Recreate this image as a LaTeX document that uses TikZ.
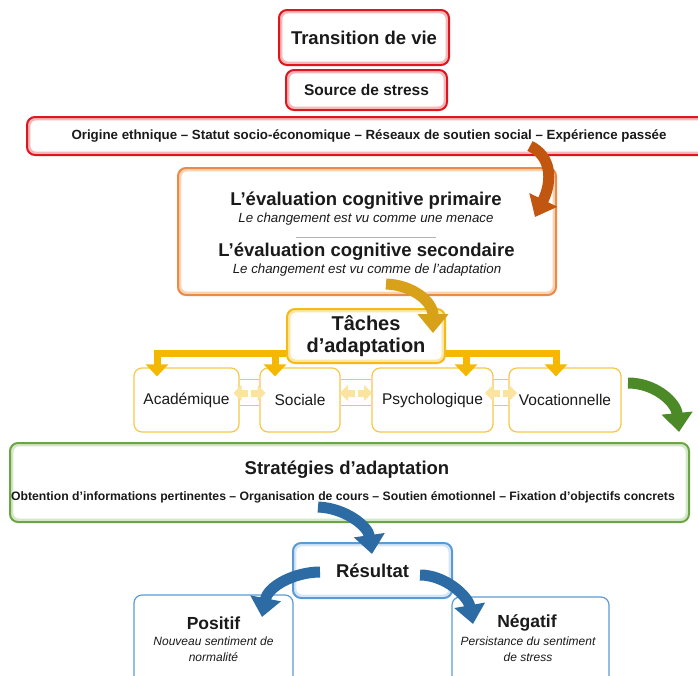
\documentclass[tikz,border=0pt]{standalone}
\usepackage{fontspec}
\setmainfont{Liberation Sans}
\usetikzlibrary{arrows.meta,calc}
\definecolor{redline}{HTML}{E0161E}
\definecolor{redband}{HTML}{F6B8B8}
\definecolor{orangeline}{HTML}{EC8A45}
\definecolor{orangeband}{HTML}{FAD3B5}
\definecolor{orangearrow}{HTML}{C0560F}
\definecolor{goldline}{HTML}{F4BA16}
\definecolor{goldband}{HTML}{FCE7A6}
\definecolor{goldarrow}{HTML}{D8A11A}
\definecolor{goldbar}{HTML}{F5B800}
\definecolor{yellowline}{HTML}{F6C749}
\definecolor{paleyellow}{HTML}{FBE3A0}
\definecolor{greenline}{HTML}{6DA544}
\definecolor{greenband}{HTML}{D3E8C6}
\definecolor{greenarrow}{HTML}{4C8A28}
\definecolor{blueline}{HTML}{5B9BD5}
\definecolor{blueband}{HTML}{D6E6F5}
\definecolor{bluearrow}{HTML}{2D6BA5}
\definecolor{ink}{HTML}{1A1A1A}
\newcommand{\fsz}[2]{\fontsize{#1}{#2}\selectfont}
\tikzset{>=Stealth}
\tikzset{
  box/.style 2 args={draw=#1, fill=#2, line width=2pt, rounded corners=8pt,
    inner sep=0pt, align=center, text=ink,
    path picture={\fill[white, rounded corners=6pt]
      ([shift={(3.4pt,3.4pt)}]path picture bounding box.south west) rectangle
      ([shift={(-3.4pt,-3.4pt)}]path picture bounding box.north east);}},
  thinbox/.style={draw=#1, fill=white, line width=1.2pt, rounded corners=8pt,
    inner sep=0pt, align=center, text=ink},
  bigarrow/.style={draw=#1, line width=11pt, -{Triangle[width=30pt,length=19pt]}},
  yconn/.style={draw=goldbar, line width=7pt, -{Triangle[width=22pt,length=12pt]}},
  pale/.style={draw=paleyellow, line width=7pt, -{Triangle[width=16pt,length=8pt]}},
  ythin/.style={draw=yellowline, line width=1pt},
  txt/.style={inner sep=0pt, text=ink, align=center}
}
\begin{document}
\begin{tikzpicture}[x=1pt,y=-1pt]
\useasboundingbox (0,0) rectangle (698,675);
\clip (0,0) rectangle (698,675);
% stress
\node[box={redline}{redband}, minimum width=170pt, minimum height=55pt, font=\fsz{18.5}{20}\bfseries] (trans) at (364,37.5) {Transition de vie};
\node[box={redline}{redband}, minimum width=161pt, minimum height=40pt, font=\fsz{15.5}{18}\bfseries] (source) at (366.5,90) {Source de stress};
\node[box={redline}{redband}, minimum width=684pt, minimum height=38pt, font=\fsz{13.3}{15}\bfseries] (origin) at (369,136) {Origine ethnique -- Statut socio-économique -- Réseaux de soutien social -- Expérience passée};
% appraisal
\node[box={orangeline}{orangeband}, minimum width=378pt, minimum height=127pt] (eval) at (367,231.5) {};
\node[txt, font=\fsz{18.5}{20}\bfseries] (eval1) at (366,201) {L’évaluation cognitive primaire};
\node[txt, font=\fsz{13.3}{15}\itshape] (eval1s) at (366,219) {Le changement est vu comme une menace};
\draw[gray!60, line width=0.6pt] (296,237) -- (436,237);
\node[txt, font=\fsz{18.5}{20}\bfseries] (eval2) at (366.5,252) {L’évaluation cognitive secondaire};
\node[txt, font=\fsz{13.3}{15}\itshape] (eval2s) at (367,270) {Le changement est vu comme de l’adaptation};
% tasks
\node[box={goldline}{goldband}, minimum width=158pt, minimum height=54pt, font=\fsz{20}{22}\bfseries] (taches) at (366,336) {Tâches\\ d’adaptation};
\node[thinbox=yellowline, minimum width=105pt, minimum height=64pt, font=\fsz{15.5}{18}] (acad) at (186.5,400) {Académique};
\node[thinbox=yellowline, minimum width=80pt, minimum height=64pt, font=\fsz{15.5}{18}] (soc) at (300,400) {Sociale};
\node[thinbox=yellowline, minimum width=121pt, minimum height=64pt, font=\fsz{15.5}{18}] (psy) at (432.5,400) {Psychologique};
\node[thinbox=yellowline, minimum width=112pt, minimum height=64pt, font=\fsz{15.5}{18}] (voc) at (565,400) {Vocationnelle};
\draw[yconn] ([yshift=-17pt]taches.west) -| ([xshift=-29.5pt,yshift=-9pt]acad.north);
\draw[yconn] ([yshift=-17pt]taches.west) -| ([xshift=-25pt,yshift=-9pt]soc.north);
\draw[yconn] ([yshift=-17pt]taches.east) -| ([xshift=33.5pt,yshift=-9pt]psy.north);
\draw[yconn] ([yshift=-17pt]taches.east) -| ([xshift=-9pt,yshift=-9pt]voc.north);
\foreach \l/\r/\b in {acad/soc/b1, soc/psy/b2, psy/voc/b3} {
  \draw[ythin] ([yshift=21pt]\l.east) -- ([yshift=21pt]\r.west);
  \draw[ythin] ([yshift=-5pt]\l.east) -- ([yshift=-5pt]\r.west);
  \coordinate (\b) at ($(\l.east)!.5!(\r.west)+(0,-7)$);
  \draw[pale] ([xshift=-1.5pt]\b) -- ([xshift=-16pt]\b);
  \draw[pale] ([xshift=1.5pt]\b) -- ([xshift=16pt]\b);
}
% strategies
\node[box={greenline}{greenband}, minimum width=679pt, minimum height=79pt] (strat) at (349.5,482.5) {};
\node[txt, font=\fsz{18.5}{20}\bfseries] (strat1) at (347,470) {Stratégies d’adaptation};
\node[txt, font=\fsz{12.2}{14}\bfseries] (strat2) at (343,497) {Obtention d’informations pertinentes -- Organisation de cours -- Soutien émotionnel -- Fixation d’objectifs concrets};
% outcome
\node[box={blueline}{blueband}, minimum width=159pt, minimum height=55pt, font=\fsz{18.5}{20}\bfseries] (result) at (372.5,570.5) {Résultat};
\node[thinbox=blueline, minimum width=159pt, minimum height=95pt] (pos) at (213.5,642.5) {};
\node[txt, font=\fsz{17.5}{20}\bfseries] (pos1) at (213.5,623) {Positif};
\node[txt, font=\fsz{12}{16}\itshape] (pos2) at (213.5,649) {Nouveau sentiment de\\ normalité};
\node[thinbox=blueline, minimum width=157pt, minimum height=93pt] (neg) at (530.5,643.5) {};
\node[txt, font=\fsz{17.5}{20}\bfseries] (neg1) at (527,623) {Négatif};
\node[txt, font=\fsz{12}{16}\itshape] (neg2) at (528,649) {Persistance du sentiment\\ de stress};
% curved arrows
\coordinate (oa) at (530,146);
\coordinate (ob) at (535,217);
\draw[bigarrow=orangearrow] (oa) .. controls (551,156) and (553,180) .. (ob);
\coordinate (ga) at (386,284);
\coordinate (gb) at (433,333);
\draw[bigarrow=goldarrow] (ga) .. controls (413,285) and (433,302) .. (gb);
\coordinate (va) at (628,383);
\coordinate (vb) at (679,432);
\draw[bigarrow=greenarrow] (va) .. controls (655,383) and (676,402) .. (vb);
\coordinate (sa) at (318,507);
\coordinate (sb) at (372,554);
\draw[bigarrow=bluearrow] (sa) .. controls (345,508) and (368,526) .. (sb);
\coordinate (ra) at (320,572);
\coordinate (rb) at (262,617);
\draw[bigarrow=bluearrow] (ra) .. controls (295,572) and (268,586) .. (rb);
\coordinate (rc) at (420,575);
\coordinate (rd) at (473,624);
\draw[bigarrow=bluearrow] (rc) .. controls (445,575) and (468,596) .. (rd);
\end{tikzpicture}
\end{document}
